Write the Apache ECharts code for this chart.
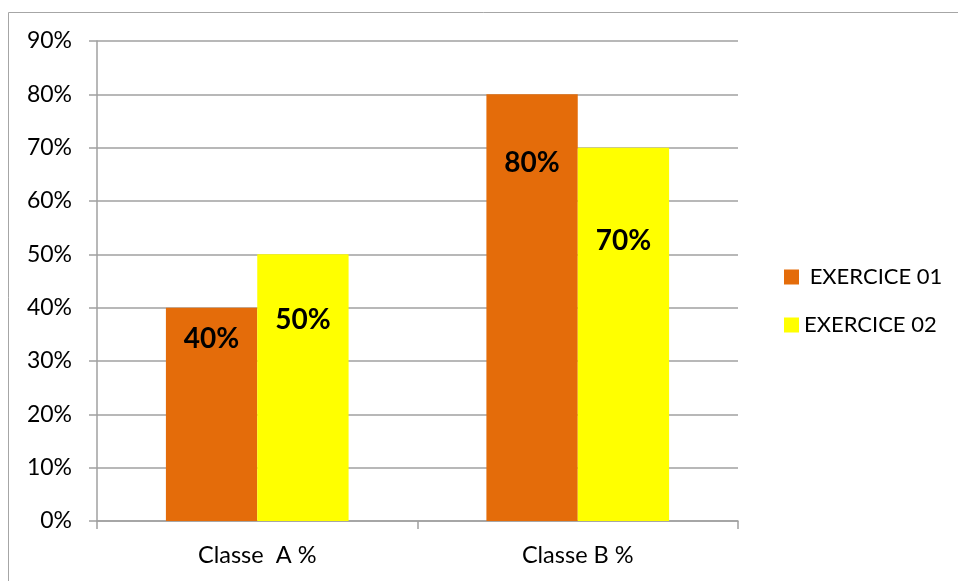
<!DOCTYPE html>
<html>
<head>
<meta charset="utf-8">
<script src="https://cdn.jsdelivr.net/npm/echarts@6/dist/echarts.min.js"></script>
<style>html,body{margin:0;padding:0;background:#fff}#c{width:958px;height:581px}</style>
</head>
<body>
<div id="c"></div>
<script>
const categories = ['Classe  A %', 'Classe B %'];
const seriesNames = [' EXERCICE 01', 'EXERCICE 02'];
const exercice01 = [40, 80];
const exercice02 = [50, 70];
const yTicks = [0, 10, 20, 30, 40, 50, 60, 70, 80, 90];

const FONT = 'Lato, "Open Sans", sans-serif';
const GRAY = '#a0a0a0';
const labelDist01 = [17, 55];
const labelDist02 = [52, 79];

function mk(name, vals, color, dists) {
  return {
    name: name, type: 'bar', barGap: '0%', barCategoryGap: '43%',
    itemStyle: { color: color },
    data: vals.map((v, i) => ({
      value: v,
      label: { show: true, position: 'insideTop', distance: dists[i], formatter: '{c}%',
        color: '#000', fontWeight: 'bold', fontSize: 28, fontFamily: FONT }
    }))
  };
}

const chart = echarts.init(document.getElementById('c'), null, { renderer: 'canvas' });
chart.setOption({
  animation: false,
  backgroundColor: '#fff',
  graphic: [{ type: 'rect', shape: { x: 8.5, y: 12.5, width: 1200, height: 1000 },
    style: { fill: 'none', stroke: '#a6a6a6', lineWidth: 1 }, silent: true }],
  grid: { left: 97, right: 220, top: 41, bottom: 60 },
  legend: {
    orient: 'vertical', left: 779, top: 261, itemWidth: 15, itemHeight: 15, itemGap: 26,
    icon: 'rect', data: seriesNames,
    textStyle: { fontSize: 22, color: '#000', fontFamily: FONT }
  },
  xAxis: {
    type: 'category', data: categories,
    axisLine: { lineStyle: { color: GRAY, width: 1.5 } },
    axisTick: { show: true, length: 8, lineStyle: { color: GRAY, width: 1.5 } },
    axisLabel: { fontSize: 23.5, color: '#000', fontFamily: FONT, margin: 22 }
  },
  yAxis: {
    type: 'value', min: yTicks[0], max: yTicks[yTicks.length - 1], interval: 10,
    axisLine: { show: true, lineStyle: { color: GRAY, width: 1.5 } },
    axisTick: { show: true, length: 8, lineStyle: { color: GRAY, width: 1.5 } },
    splitLine: { lineStyle: { color: GRAY, width: 1.5 } },
    axisLabel: { fontSize: 23, color: '#000', fontFamily: FONT, margin: 25, formatter: '{value}%' }
  },
  series: [
    mk(seriesNames[0], exercice01, '#E46C0A', labelDist01),
    mk(seriesNames[1], exercice02, '#FFFF00', labelDist02)
  ]
});
</script>
</body>
</html>
